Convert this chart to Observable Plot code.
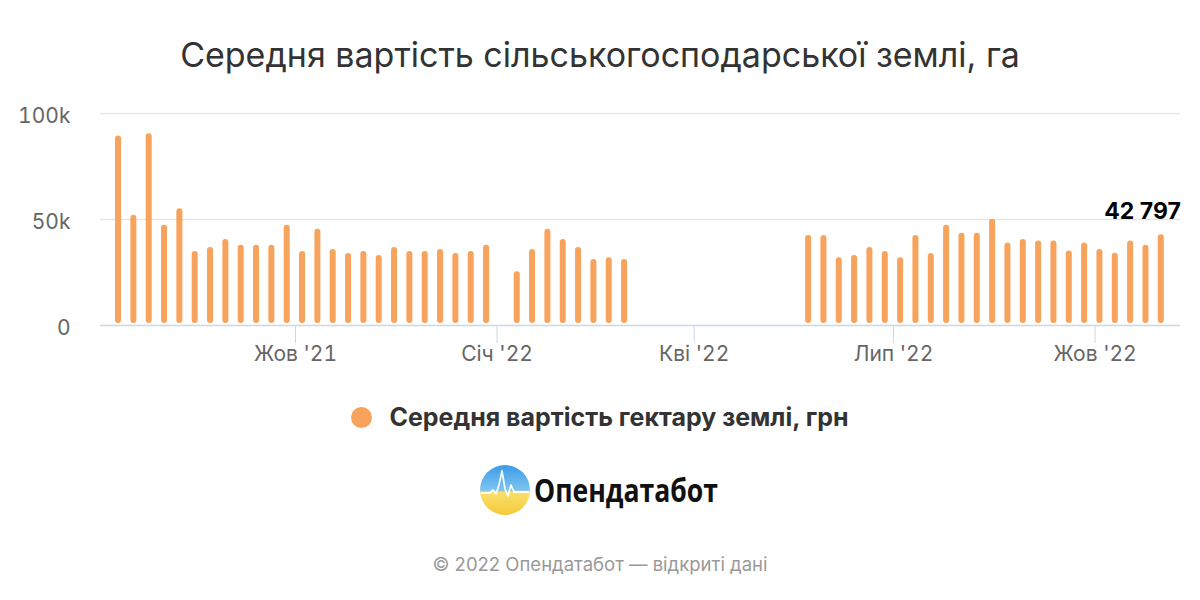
<!DOCTYPE html>
<html>
<head>
<meta charset="utf-8">
<script src="https://cdn.jsdelivr.net/npm/d3@7"></script>
<script src="https://cdn.jsdelivr.net/npm/@observablehq/plot@0.6"></script>
<style>
  html, body { margin: 0; padding: 0; background: #fff; }
  body { width: 1200px; height: 600px; position: relative; overflow: hidden; font-family: Inter, "Noto Sans", sans-serif; }
  #title { position: absolute; left: 0; top: 33px; width: 1200px; text-align: center; font-size: 34px; color: #333; line-height: 44px; }
  #chart { position: absolute; left: 0; top: 95px; }
  #legend { position: absolute; left: 0; top: 400px; width: 1200px; display: flex; justify-content: center; align-items: center; font-size: 25px; font-weight: 700; color: #333; line-height: 34px; }
  #legend .dot { width: 21px; height: 21px; border-radius: 50%; background: #f7a35c; margin-right: 17px; }
  #logo { position: absolute; left: 478px; top: 463px; }
  #credits { position: absolute; left: 0; top: 552px; width: 1200px; text-align: center; font-size: 18.5px; color: #999; line-height: 24px; }
</style>
</head>
<body>
<div id="title">Середня вартість сільськогосподарської землі, га</div>
<div id="chart"></div>
<div id="legend"><span class="dot"></span><span id="legendText"></span></div>
<div id="logo">
  <svg width="290" height="56" viewBox="0 0 290 56">
    <defs>
      <linearGradient id="lg" x1="0" y1="0" x2="0" y2="1">
        <stop offset="0" stop-color="#3d9be9"/>
        <stop offset="0.5" stop-color="#7cc4f0"/>
        <stop offset="0.55" stop-color="#f9df6a"/>
        <stop offset="1" stop-color="#f5c93a"/>
      </linearGradient>
    </defs>
    <circle cx="27" cy="27" r="25" fill="url(#lg)"/>
    <path d="M3 30 L12 30 L15 27 L18 31 L21 22 L24 8 L27 26 L30 33 L33 22 L36 29 L51 29" fill="none" stroke="#fff" stroke-width="1.8" stroke-linejoin="round" opacity="0.9"/>
    <text x="56" y="39" font-family="'Open Sans', sans-serif" font-weight="700" font-size="32" fill="#111" textLength="184" lengthAdjust="spacingAndGlyphs">Опендатабот</text>
  </svg>
</div>
<div id="credits">© 2022 Опендатабот — відкриті дані</div>
<script>
// ---- Data (values in UAH per hectare, weekly) ----
const seriesName = "Середня вартість гектару землі, грн";
const segment1Start = "2021-07-12";
const segment1Values = [89400, 52000, 90500, 47300, 55100, 34900, 36800, 40600, 37800, 37800, 37800, 47300, 34900, 45400, 35900, 34000, 34900, 33000, 36800, 34900, 34900, 35900, 34000, 34900, 37800];
const segment2Start = "2022-01-10";
const segment2Values = [25400, 35900, 45400, 40600, 36800, 31100, 32000, 31100];
const segment3Start = "2022-05-23";
const segment3Values = [42500, 42500, 32000, 33000, 36800, 34900, 32000, 42500, 34000, 47300, 43500, 43500, 50100, 38900, 40600, 39900, 39900, 35100, 38900, 35900, 34100, 39900, 37800, 42797];
const xTickDates = ["2021-10-01", "2022-01-01", "2022-04-01", "2022-07-01", "2022-10-01"];
const xTickLabels = ["Жов '21", "Січ '22", "Кві '22", "Лип '22", "Жов '22"];
const yTickValues = [0, 50000, 100000];
const yTickLabels = ["0", "50k", "100k"];
const xDomain = ["2021-07-04", "2022-11-09"];

document.getElementById("legendText").textContent = seriesName;

const rows = [];
[[segment1Start, segment1Values], [segment2Start, segment2Values], [segment3Start, segment3Values]].forEach(([start, vals]) => {
  const s = new Date(start + "T00:00:00Z");
  vals.forEach((v, i) => rows.push({date: d3.utcDay.offset(s, 7 * i), value: v}));
});
const last = rows[rows.length - 1];
const fmt = d3.formatLocale({decimal: ",", thousands: " ", grouping: [3], currency: ["", ""]}).format(",d");

const xTickMap = new Map(xTickDates.map((d, i) => [new Date(d + "T00:00:00Z").getTime(), xTickLabels[i]]));
const yTickMap = new Map(yTickValues.map((v, i) => [v, yTickLabels[i]]));

const chart = Plot.plot({
  width: 1200,
  height: 280,
  marginLeft: 100,
  marginRight: 20,
  marginTop: 18,
  marginBottom: 50,
  style: {fontFamily: "Inter, sans-serif", fontSize: "21px", background: "transparent", overflow: "visible"},
  x: {type: "utc", domain: xDomain.map(d => new Date(d + "T00:00:00Z"))},
  y: {domain: [0, 100000]},
  marks: [
    Plot.ruleY(yTickValues.filter(v => v > 0), {stroke: "#e6e6e6", strokeWidth: 1.5}),
    Plot.axisY(yTickValues, {tickSize: 0, tickPadding: 30, dy: 3, tickFormat: v => yTickMap.get(v), fill: "#666", fontSize: 21, label: null}),
    Plot.axisX(xTickDates.map(d => new Date(d + "T00:00:00Z")), {tickSize: 18, tickPadding: 3, tickFormat: d => xTickMap.get(d.getTime()), stroke: "#ccd6eb", fill: "#666", fontSize: 21, label: null}),
    Plot.ruleX(rows, {x: "date", y1: "value", y2: 0, stroke: "#f7a35c", strokeWidth: 6, strokeLinecap: "round", insetTop: 3, insetBottom: 5}),
    Plot.ruleY([0], {stroke: "#ccd6eb", strokeWidth: 1.5}),
    Plot.text([last], {x: "date", y: "value", text: d => fmt(d.value), textAnchor: "end", dx: 20, dy: -23, fontWeight: "bold", fontSize: 23, fill: "#000", fontFamily: "Inter, sans-serif"})
  ]
});
document.getElementById("chart").appendChild(chart);
</script>
</body>
</html>
